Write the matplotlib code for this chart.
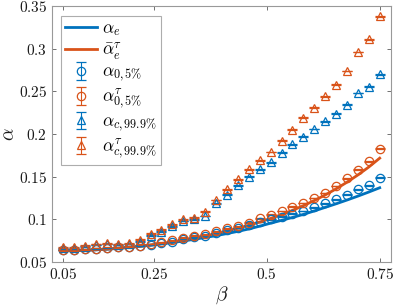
import numpy as np
import matplotlib
matplotlib.use("Agg")
import matplotlib.pyplot as plt

plt.rcParams['mathtext.fontset'] = 'cm'
plt.rcParams['font.family'] = ['DejaVu Serif']

beta = np.linspace(0.05, 0.75, 30)

alpha_e = [0.0630, 0.0632, 0.0636, 0.0642, 0.0650, 0.0659, 0.0670, 0.0682, 0.0696, 0.0712,
           0.0728, 0.0746, 0.0766, 0.0787, 0.0809, 0.0833, 0.0859, 0.0887, 0.0920, 0.0955,
           0.0988, 0.1022, 0.1058, 0.1098, 0.1140, 0.1182, 0.1226, 0.1272, 0.1320, 0.1370]
alpha_e_tau = [0.0630, 0.0633, 0.0638, 0.0644, 0.0652, 0.0661, 0.0672, 0.0685, 0.0700, 0.0717,
               0.0736, 0.0757, 0.0780, 0.0805, 0.0833, 0.0863, 0.0895, 0.0930, 0.0968, 0.1010,
               0.1055, 0.1105, 0.1160, 0.1220, 0.1285, 0.1357, 0.1435, 0.1520, 0.1613, 0.1717]
alpha_05 = [0.064, 0.064, 0.065, 0.0655, 0.066, 0.067, 0.068, 0.069, 0.070, 0.072,
            0.074, 0.077, 0.079, 0.081, 0.084, 0.087, 0.090, 0.093, 0.097, 0.100,
            0.103, 0.1066, 0.1097, 0.114, 0.1186, 0.1236, 0.129, 0.135, 0.140, 0.1488]
alpha_05_tau = [0.064, 0.064, 0.065, 0.0655, 0.066, 0.067, 0.068, 0.069, 0.071, 0.073,
                0.0755, 0.0785, 0.081, 0.0825, 0.086, 0.0895, 0.092, 0.096, 0.101, 0.1055,
                0.1097, 0.1148, 0.119, 0.125, 0.131, 0.139, 0.148, 0.158, 0.168, 0.183]
alpha_999 = [0.066, 0.066, 0.068, 0.070, 0.071, 0.070, 0.071, 0.074, 0.081, 0.0857,
             0.092, 0.098, 0.100, 0.104, 0.1186, 0.129, 0.140, 0.150, 0.1585, 0.167,
             0.178, 0.188, 0.197, 0.206, 0.215, 0.224, 0.2345, 0.248, 0.2555, 0.270]
alpha_999_tau = [0.067, 0.067, 0.069, 0.071, 0.072, 0.071, 0.072, 0.076, 0.083, 0.088,
                 0.094, 0.100, 0.102, 0.109, 0.1225, 0.135, 0.147, 0.1585, 0.169, 0.179,
                 0.192, 0.205, 0.219, 0.231, 0.244, 0.258, 0.274, 0.296, 0.311, 0.338]
err = 0.0004

xticks = [0.05, 0.25, 0.5, 0.75]
yticks = [0.05, 0.1, 0.15, 0.2, 0.25, 0.3, 0.35]

blue = '#0072BD'
orange = '#D95319'

fig = plt.figure(figsize=(3.95, 3.06), dpi=100)
ax = fig.add_axes([52/395, 1-262/306, 339/395, 256/306])

ax.plot(beta, alpha_e, color=blue, lw=2.0, label=r'$\alpha_e$')
ax.plot(beta, alpha_e_tau, color=orange, lw=2.0, label=r'$\bar{\alpha}_e^\tau$')

ekw = dict(linestyle='none', capsize=3.5, elinewidth=0.8, capthick=0.8,
           mfc='none', mew=0.9, ms=6)
ax.errorbar(beta, alpha_05, yerr=err, marker='o', color=blue, label=r'$\alpha_{0,5\%}$', **ekw)
ax.errorbar(beta, alpha_05_tau, yerr=err, marker='o', color=orange, label=r'$\alpha^\tau_{0,5\%}$', **ekw)
ax.errorbar(beta, alpha_999, yerr=err, marker='^', color=blue, label=r'$\alpha_{c,99.9\%}$', **ekw)
ax.errorbar(beta, alpha_999_tau, yerr=err, marker='^', color=orange, label=r'$\alpha^\tau_{c,99.9\%}$', **ekw)

ax.set_xlim(0.025, 0.775)
ax.set_ylim(0.05, 0.35)
ax.set_xticks(xticks)
ax.set_xticklabels([f'${t:g}$' for t in xticks])
ax.set_yticks(yticks)
ax.set_yticklabels([f'${t:g}$' for t in yticks])
ax.tick_params(direction='in', top=True, right=True, length=3, width=0.6,
               colors='0.35', labelcolor='0.1', labelsize=11)
for s in ax.spines.values():
    s.set_color('0.6')
    s.set_linewidth(0.8)

ax.set_xlabel(r'$\beta$', fontsize=14, color='0.1', va='center')
ax.xaxis.set_label_coords(0.5, -0.13)
ax.set_ylabel(r'$\alpha$', fontsize=14, color='0.1', va='center')
ax.yaxis.set_label_coords(-0.125, 0.5)

leg = ax.legend(loc='upper left', bbox_to_anchor=(0.0265, 0.961), borderaxespad=0,
                fontsize=12.5, handlelength=1.8, handletextpad=0.3, labelspacing=0.12,
                frameon=True, fancybox=False, edgecolor='0.6', borderpad=0.25)
leg.get_frame().set_linewidth(0.8)

fig.savefig('out.png', dpi=100)
